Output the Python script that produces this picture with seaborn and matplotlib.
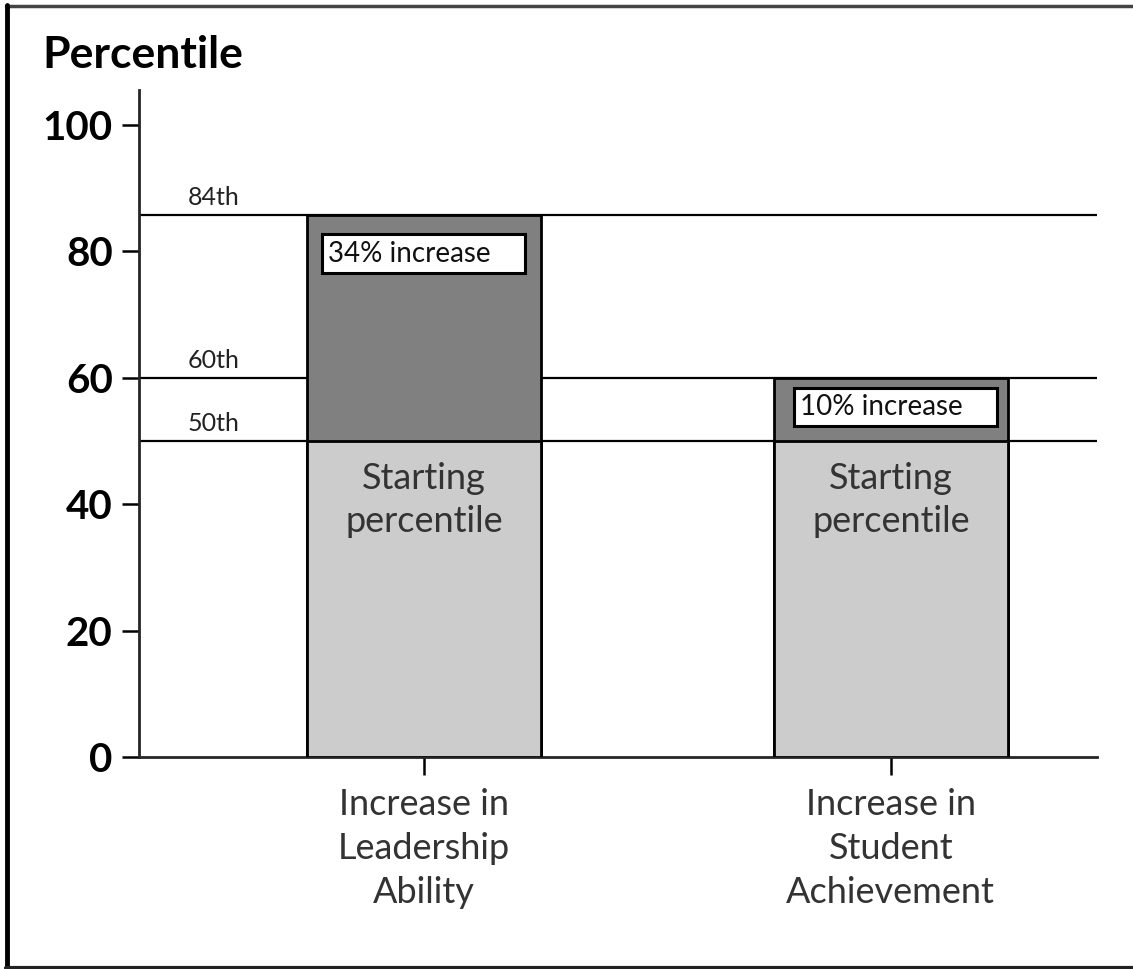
import matplotlib
matplotlib.use("Agg")
import matplotlib.pyplot as plt
import seaborn as sns
import pandas as pd
from matplotlib.lines import Line2D

# data
categories = ["Increase in\nLeadership\nAbility", "Increase in\nStudent\nAchievement"]
start_pct = [50, 50]
end_pct = [85.8, 60]
increase_labels = ["34% increase", "10% increase"]
ref_levels = [85.8, 60, 50]
ref_labels = ["84th", "60th", "50th"]
yticks = [0, 20, 40, 60, 80, 100]

df = pd.DataFrame({"cat": categories, "start": start_pct, "end": end_pct})

sns.set_style("white")
plt.rcParams["font.family"] = ["Lato", "DejaVu Sans"]

fig = plt.figure(figsize=(11.33, 9.69), dpi=100)
ax = fig.add_axes([0.1227, 0.2188, 0.968 - 0.1227, 0.907 - 0.2188])

# reference lines behind the bars
for lv in ref_levels:
    ax.axhline(lv, color="black", lw=1.6, zorder=1)

# stacked bars: total first, then starting part over it
sns.barplot(data=df, x="cat", y="end", color="#808080", width=0.5,
            edgecolor="black", linewidth=2, saturation=1, ax=ax, zorder=2)
sns.barplot(data=df, x="cat", y="start", color="#cccccc", width=0.5,
            edgecolor="black", linewidth=2, saturation=1, ax=ax, zorder=3)

ax.set_xlim(-0.61, 1.441)
ax.set_ylim(0, 105.5)
ax.set_xlabel("")
ax.set_ylabel("")

# reference labels
for lv, lab in zip(ref_levels, ref_labels):
    ax.text(-0.505, lv + 0.9, lab, fontsize=18, ha="left", va="bottom", color="#222222")

# increase boxes (placement differs a bit per bar, as in the original)
box_dx = [-0.205, -0.195]
box_dy = [4.1, 2.6]
for i, (e, lab) in enumerate(zip(end_pct, increase_labels)):
    ax.text(i + box_dx[i], e - box_dy[i], lab + "    ", fontsize=20, ha="left", va="top",
            color="#111111", zorder=5,
            bbox=dict(boxstyle="square,pad=0.22", fc="white", ec="black", lw=2.2))

# starting percentile text
for i, s in enumerate(start_pct):
    ax.text(i, s - 3.3, "Starting\npercentile", fontsize=26, ha="center", va="top",
            color="#333333", linespacing=1.38, zorder=5)

sns.despine(ax=ax)
ax.spines["left"].set_linewidth(2)
ax.spines["bottom"].set_linewidth(2)
ax.set_yticks(yticks)
ax.set_yticklabels([str(t) for t in yticks], fontsize=29, fontweight="bold")
ax.tick_params(axis="y", left=True, direction="out", length=12, width=1.8, pad=7, colors="black")
ax.tick_params(axis="x", bottom=True, direction="out", length=13, width=1.8, pad=9, colors="black")
for t in ax.get_xticklabels():
    t.set_fontsize(26)
    t.set_color("#333333")
    t.set_linespacing(1.42)

fig.text(0.037, 0.943, "Percentile", fontsize=32, fontweight="bold",
         ha="left", va="center", color="black")

# outer frame
fig.add_artist(Line2D([0.005, 1.0], [0.9938, 0.9938], color="#444444", lw=2.5, transform=fig.transFigure))
fig.add_artist(Line2D([0.0066, 0.0066], [0.0015, 0.995], color="black", lw=3.5, transform=fig.transFigure))
fig.add_artist(Line2D([0.005, 1.0], [0.0015, 0.0015], color="#222222", lw=3, transform=fig.transFigure))

fig.savefig("out.png", dpi=100)
